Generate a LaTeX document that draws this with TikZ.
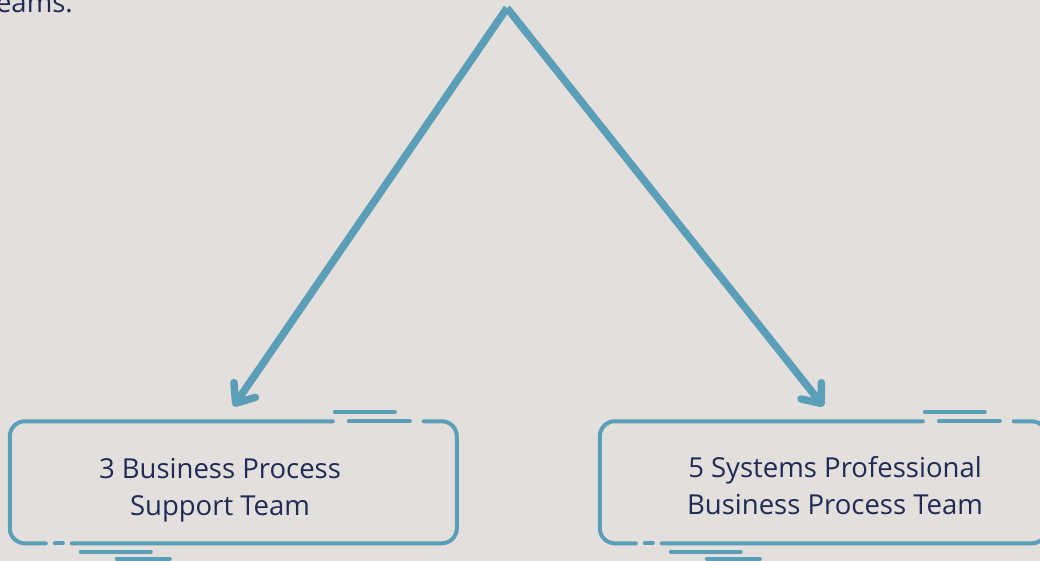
\documentclass[tikz,border=0pt]{standalone}
\usepackage{fontspec}
\setmainfont{Open Sans}
\usetikzlibrary{arrows.meta}
\definecolor{paper}{HTML}{E3DFDC}
\definecolor{linkblue}{HTML}{5A9EB7}
\definecolor{ink}{HTML}{1F2A55}

\begin{document}
\begin{tikzpicture}[x=1pt,y=-1pt,font=\fontsize{27.5}{37}\selectfont,
    link/.style={line width=7.5pt,color=linkblue,
        -{Straight Barb[length=16pt,width=26pt,round]}},
    frame/.style={line width=4pt,color=linkblue,line cap=round,
        rounded corners=15pt},
    teambox/.style={minimum width=447pt,minimum height=122pt,inner sep=0pt},
    teamtext/.style={align=center,text=ink,inner sep=0pt}]
    \useasboundingbox (0,0) rectangle (1040,561);
    \clip (0,0) rectangle (1040,561);
    \fill[paper] (0,0) rectangle (1040,561);

    \node[anchor=base east,text=ink,inner sep=0pt] (lead) at (73,12.5) {teams.};

    % Two team boxes and their labels.
    \node[teambox] (support) at (233.5,482.5) {};
    \node[teambox] (systems) at (823.5,482.5) {};
    \node[teamtext] (supporttext) at (220,490) {3 Business Process\\Support Team};
    \node[teamtext] (systemstext) at (835,486)
        {5 Systems Professional\\Business Process Team};

    % Broken outline, the same round both boxes.
    \foreach \team in {support,systems} {
        \begin{scope}[shift={(\team.north west)}]
            \draw[frame] (323,0) -- (0,0) -- (0,122) -- (36,122);
            \draw[frame] (62,122) -- (447,122) -- (447,0) -- (414,0);
            \draw[frame] (339,0) -- (400,0);
            \draw[frame] (45,122) -- (53,122);
            \draw[frame] (325,-9.5) -- (385,-9.5);
            \draw[frame] (71,130.5) -- (141,130.5);
            \draw[frame] (107,137.5) -- (160,137.5);
        \end{scope}
    }

    % Split into the two teams.
    \coordinate (apex) at (507,8);
    \draw[link] (apex) -- ([yshift=15pt]support.north);
    \draw[link] (apex) -- ([yshift=15pt]systems.north);
\end{tikzpicture}
\end{document}
